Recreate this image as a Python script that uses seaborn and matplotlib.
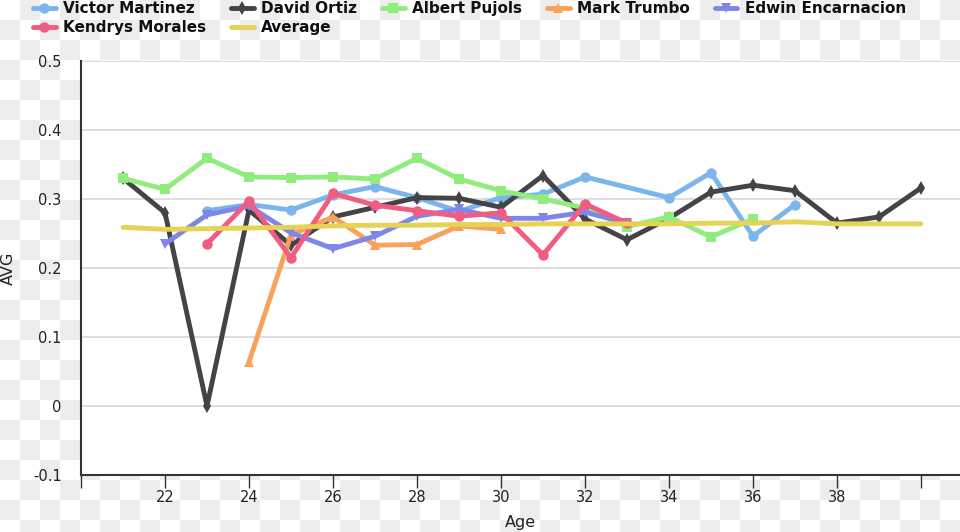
import numpy as np
import pandas as pd
import matplotlib
matplotlib.use("Agg")
import matplotlib.pyplot as plt
import seaborn as sns

sns.set_theme(style="white")
plt.rcParams['font.family'] = ['DejaVu Sans']

# ---- data ----
martinez_age = [23, 24, 25, 26, 27, 28, 29, 30, 31, 32, 34, 35, 36, 37]
martinez_avg = [0.283, 0.292, 0.284, 0.306, 0.318, 0.302, 0.282, 0.302, 0.307, 0.332, 0.302, 0.338, 0.246, 0.292]

ortiz_age = list(range(21, 41))
ortiz_avg = [0.330, 0.280, 0.000, 0.284, 0.233, 0.274, 0.288, 0.302, 0.301, 0.288, 0.334, 0.271, 0.241, 0.272,
             0.310, 0.320, 0.312, 0.265, 0.274, 0.316]

pujols_age = list(range(21, 37))
pujols_avg = [0.330, 0.314, 0.359, 0.332, 0.331, 0.332, 0.329, 0.359, 0.329, 0.312, 0.300, 0.287, 0.260, 0.274,
              0.245, 0.271]

trumbo_age = [24, 25, 26, 27, 28, 29, 30]
trumbo_avg = [0.064, 0.248, 0.274, 0.233, 0.234, 0.261, 0.256]

encarnacion_age = list(range(22, 34))
encarnacion_avg = [0.235, 0.277, 0.290, 0.251, 0.228, 0.246, 0.275, 0.285, 0.272, 0.272, 0.281, 0.265]

morales_age = list(range(23, 34))
morales_avg = [0.235, 0.297, 0.215, 0.308, 0.291, 0.283, 0.275, 0.280, 0.219, 0.293, 0.265]

average_age = list(range(21, 41))
average_avg = [0.259, 0.256, 0.257, 0.258, 0.259, 0.261, 0.262, 0.262, 0.263, 0.263, 0.264, 0.264, 0.264, 0.264,
               0.265, 0.265, 0.267, 0.264, 0.264, 0.264]

series = [
    ("Victor Martinez", martinez_age, martinez_avg, "#7cb5ec", "o", 7.5),
    ("David Ortiz", ortiz_age, ortiz_avg, "#434348", "d", 7),
    ("Albert Pujols", pujols_age, pujols_avg, "#90ed7d", "s", 7.5),
    ("Mark Trumbo", trumbo_age, trumbo_avg, "#f7a35c", "^", 7.5),
    ("Edwin Encarnacion", encarnacion_age, encarnacion_avg, "#8085e9", "v", 7.5),
    ("Kendrys Morales", morales_age, morales_avg, "#f15c80", "o", 7.5),
    ("Average", average_age, average_avg, "#e4d354", None, 0),
]

x_ticks = [20, 22, 24, 26, 28, 30, 32, 34, 36, 38, 40]
x_tick_labels = ["", "22", "24", "26", "28", "30", "32", "34", "36", "38", ""]
y_ticks = [-0.1, 0, 0.1, 0.2, 0.3, 0.4, 0.5]
y_tick_labels = ["-0.1", "0", "0.1", "0.2", "0.3", "0.4", "0.5"]

# ---- figure ----
W, H = 960, 532
fig = plt.figure(figsize=(W / 100, H / 100), dpi=100)
fig.patch.set_facecolor("white")

# transparent-background checkerboard
sq = 20
yy, xx = np.mgrid[0:H, 0:W]
board = (((xx // sq) + (yy // sq)) % 2).astype(float)
img = np.where(board[..., None] == 1, 0.933, 1.0) * np.ones((H, W, 3))
fig.figimage(img, xo=0, yo=0, origin="upper", zorder=-10)

ax = fig.add_axes([81 / W, (H - 475) / H, (W - 81) / W, (475 - 61) / H])
ax.set_facecolor("white")

for i, (name, ages, vals, color, marker, ms) in enumerate(series):
    df = pd.DataFrame({"Age": ages, "AVG": vals})
    kw = dict(marker=marker, markersize=ms, markeredgewidth=0) if marker else {}
    sns.lineplot(data=df, x="Age", y="AVG", ax=ax, color=color, linewidth=3.5,
                 label=name, zorder=3 + i, **kw)

ax.set_xlim(20, 20 + (W - 81) / 42)
ax.set_ylim(-0.1, 0.5)
ax.set_xticks(x_ticks)
ax.set_xticklabels(x_tick_labels, fontsize=10.5, color="#222222")
ax.set_yticks(y_ticks)
ax.set_yticklabels(y_tick_labels, fontsize=10.5, color="#222222")
ax.tick_params(axis="x", bottom=True, direction="out", length=9, width=1, color="#333333", pad=2)
ax.tick_params(axis="y", left=False, length=0, pad=14)
ax.yaxis.grid(True, color="#d8d8d8", linewidth=1.2)
ax.xaxis.grid(False)
ax.set_axisbelow(True)
for s in ["top", "right"]:
    ax.spines[s].set_visible(False)
for s in ["left", "bottom"]:
    ax.spines[s].set_color("#333333")
    ax.spines[s].set_linewidth(1.5)

ax.set_xlabel("Age", fontsize=11.5, color="#222222", labelpad=7)
ax.set_ylabel("AVG", fontsize=11.5, color="#222222", labelpad=12)

handles, labels = ax.get_legend_handles_labels()
ax.get_legend().remove()
order = [0, 5, 1, 6, 2, 3, 4]
leg = fig.legend([handles[k] for k in order], [labels[k] for k in order],
                 loc="upper left", bbox_to_anchor=(0.034, 0.998), ncol=5,
                 frameon=False, prop={"weight": "bold", "size": 11}, handlelength=1.5,
                 handletextpad=0.5, columnspacing=1.6, borderpad=0, labelspacing=0.25,
                 borderaxespad=0)
for t in leg.get_texts():
    t.set_color("#111111")

fig.savefig("out.png", dpi=100)
